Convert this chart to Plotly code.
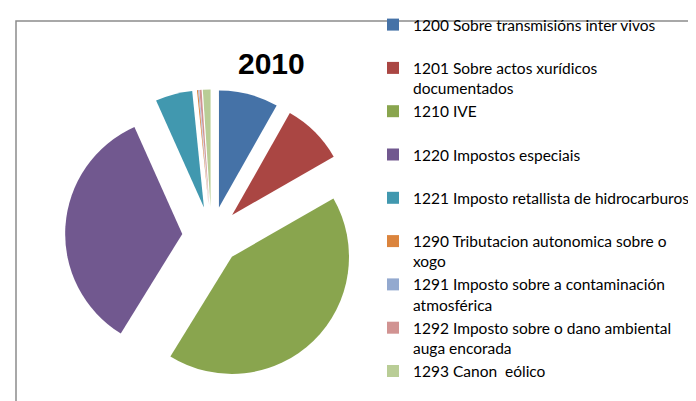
import plotly.graph_objects as go

# Categories and values (share of total)
labels = [
    "1200 Sobre transmisións inter vivos<br> ",
    "1201 Sobre actos xurídicos<br>documentados",
    "1210 IVE<br> ",
    "1220 Impostos especiais<br> ",
    "1221 Imposto retallista de hidrocarburos<br> ",
    "1290 Tributacion autonomica sobre o<br>xogo",
    "1291 Imposto sobre a contaminación<br>atmosférica",
    "1292 Imposto sobre o dano ambiental<br>auga encorada",
    "1293 Canon  eólico",
]
values = [8.2, 8.5, 42.1, 34.5, 5.1, 0.15, 0.1, 0.3, 1.05]
colors = [
    "#4572A7", "#AA4643", "#89A54E", "#71588F", "#4198AF",
    "#DB843D", "#93A9CF", "#D19392", "#B9CD96",
]

fig = go.Figure()
fig.add_trace(
    go.Pie(
        labels=labels,
        values=values,
        sort=False,
        direction="clockwise",
        rotation=0,
        pull=[0.25] * len(values),
        marker=dict(colors=colors, line=dict(width=0)),
        textinfo="none",
        domain=dict(x=[56 / 696, 351 / 696], y=[1 - 374 / 401, 1 - 79 / 401]),
    )
)

# chart area border (top and left visible)
fig.add_shape(
    type="rect", xref="paper", yref="paper",
    x0=8 / 696, x1=1.02, y0=-0.02, y1=1 - 10 / 401,
    line=dict(color="#8c8c8c", width=1.5),
)

fig.add_annotation(
    text="<b>2010</b>", xref="paper", yref="paper",
    x=263 / 696, y=1 - 52.5 / 401, xanchor="center", yanchor="middle",
    showarrow=False,
    font=dict(family="Liberation Sans, Arial", size=30, color="black"),
)

fig.update_layout(
    width=696,
    height=401,
    margin=dict(l=0, r=0, t=0, b=0),
    paper_bgcolor="white",
    showlegend=True,
    legend=dict(
        x=365 / 696, xanchor="left",
        y=1 + 3 / 401, yanchor="top",
        maxheight=600,
        font=dict(family="Lato, Liberation Sans", size=15.5, color="black"),
        valign="top",
        bgcolor="rgba(0,0,0,0)",
    ),
)

fig.write_html("out.html")
